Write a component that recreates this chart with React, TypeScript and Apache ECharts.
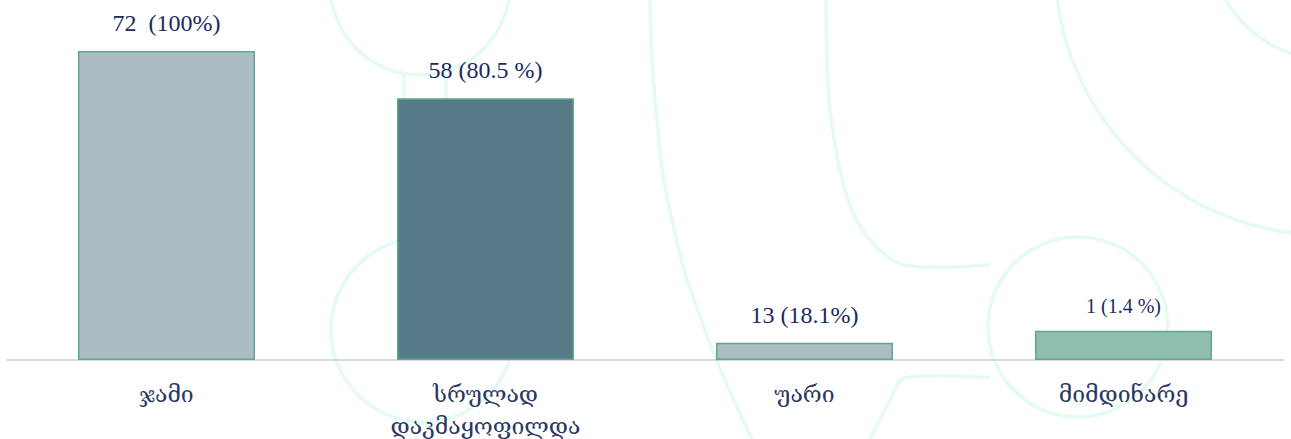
import React, { useEffect, useRef } from "react";
import * as echarts from "echarts";

const categories = ["ჯამი", "სრულად\nდაკმაყოფილდა", "უარი", "მიმდინარე"];
const barHeights = [72, 61, 4, 6.8];
const labelTexts = ["72  (100%)", "58 (80.5 %)", "13 (18.1%)", "1 (1.4 %)"];
const labelSizes = [24, 24, 24, 20];
const barColors = ["#abbdc2", "#577b86", "#abbdc2", "#8fbdae"];

const FONT = "'Liberation Serif', 'DejaVu Serif', serif";
const WM = "#e4fbf3";

const wmStyle = { fill: "none", stroke: WM, lineWidth: 3.5 };

export default function App() {
  const ref = useRef<HTMLDivElement>(null);
  useEffect(() => {
    if (!ref.current) return;
    const chart = echarts.init(ref.current, null, { renderer: "svg", width: 1291, height: 439 });
    chart.setOption({
      animation: false,
      backgroundColor: "#ffffff",
      graphic: [
        { type: "circle", shape: { cx: 423, cy: 330, r: 92 }, style: wmStyle, z: 0 },
        { type: "arc", shape: { cx: 420, cy: -15, r: 90, startAngle: 0, endAngle: Math.PI }, style: wmStyle, z: 0 },
        { type: "line", shape: { x1: 404, y1: 74, x2: 404, y2: 100 }, style: wmStyle, z: 0 },
        { type: "line", shape: { x1: 446, y1: 74, x2: 446, y2: 100 }, style: wmStyle, z: 0 },
        { type: "circle", shape: { cx: 1078, cy: 327, r: 90 }, style: wmStyle, z: 0 },
        { type: "arc", shape: { cx: 1325, cy: -35, r: 270, startAngle: Math.PI * 0.5, endAngle: Math.PI * 0.98 }, style: wmStyle, z: 0 },
        { type: "arc", shape: { cx: 1330, cy: -60, r: 120, startAngle: Math.PI * 0.5, endAngle: Math.PI * 0.95 }, style: wmStyle, z: 0 },
        { type: "polyline", shape: { points: [[650, 0], [656, 110], [672, 220], [705, 330], [752, 439]], smooth: 0.5 }, style: wmStyle, z: 0 },
        { type: "polyline", shape: { points: [[826, 0], [830, 110], [848, 200], [870, 240], [904, 265], [990, 265]], smooth: 0.3 }, style: wmStyle, z: 0 },
        { type: "polyline", shape: { points: [[870, 439], [890, 400], [904, 378], [990, 378]], smooth: 0.3 }, style: wmStyle, z: 0 },
      ],
      grid: { left: 7, right: 8, top: 51, bottom: 79, containLabel: false, outerBoundsMode: "none" },
      xAxis: {
        type: "category",
        data: categories,
        axisLine: { show: true, lineStyle: { color: "#d9d9d9", width: 2 } },
        axisTick: { show: false },
        axisLabel: {
          interval: 0,
          margin: 18,
          fontFamily: FONT,
          fontSize: 23,
          lineHeight: 32,
          color: "#2a3862",
        },
        splitLine: { show: false },
      },
      yAxis: {
        type: "value",
        min: 0,
        max: 72,
        show: false,
        splitLine: { show: false },
      },
      series: [
        {
          type: "bar",
          barWidth: "55.5%",
          z: 2,
          data: barHeights.map((v, i) => ({
            value: v,
            itemStyle: { color: barColors[i], borderColor: "#5fa88d", borderWidth: 1.5 },
            label: {
              show: true,
              position: "top",
              distance: i === 3 ? 15 : 16,
              formatter: () => labelTexts[i],
              fontFamily: FONT,
              fontSize: labelSizes[i],
              color: "#1a2b5e",
            },
          })),
        },
      ],
    });
    return () => chart.dispose();
  }, []);
  return (
    <div
      ref={ref}
      style={{ position: "fixed", left: 0, top: 0, width: 1291, height: 439 }}
    />
  );
}
